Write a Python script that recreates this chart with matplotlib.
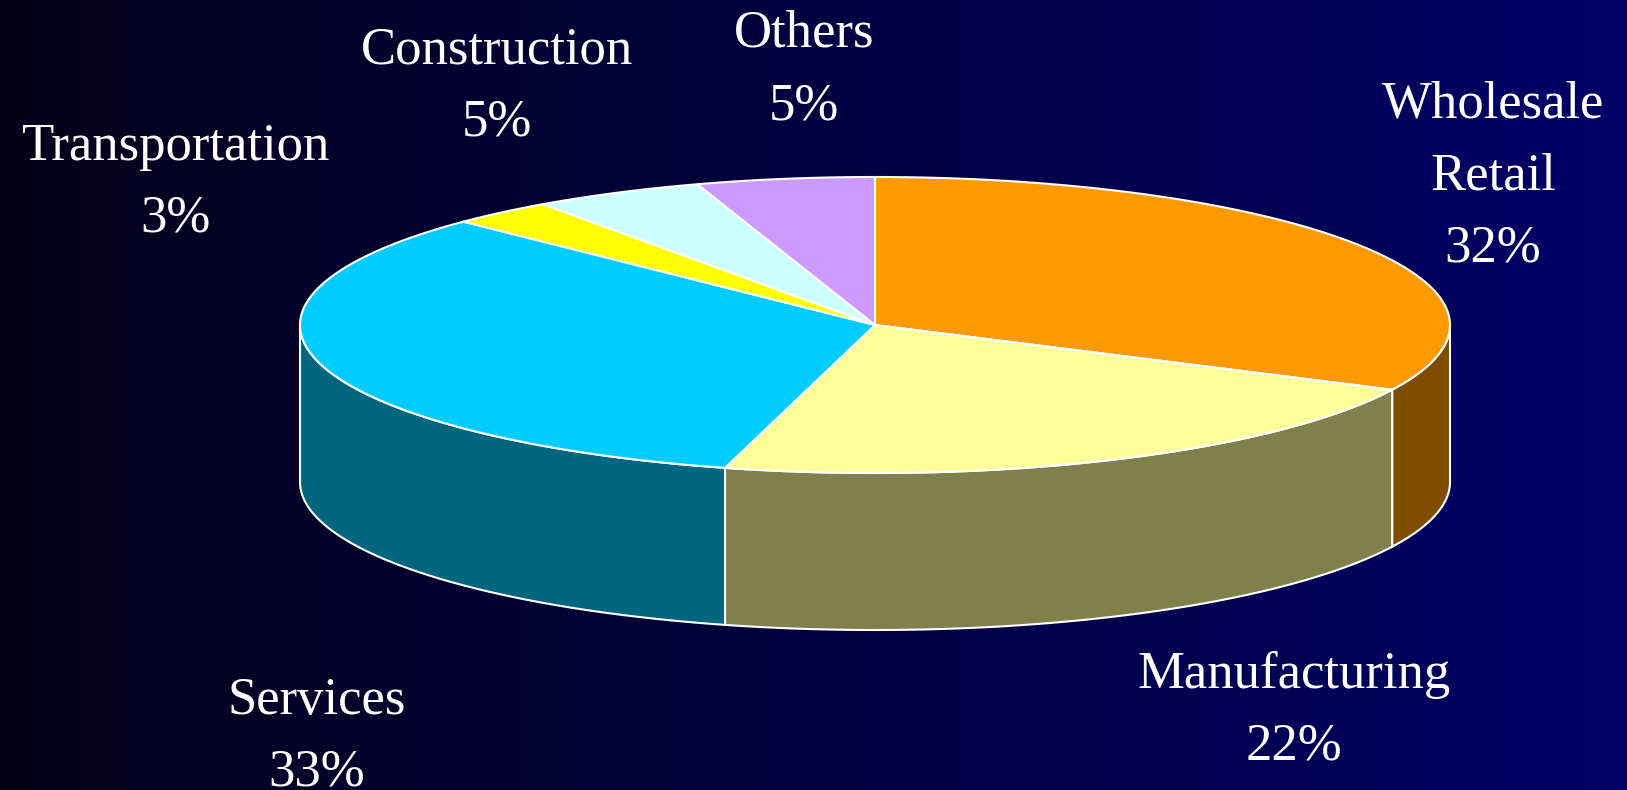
import numpy as np
import matplotlib.pyplot as plt
from matplotlib.patches import Polygon

# shares (labels show the rounded values)
labels = ["Wholesale\nRetail", "Manufacturing", "Services",
          "Transportation", "Construction", "Others"]
shares = [32.2, 22.0, 33.1, 2.9, 4.8, 5.0]
top_colors = ["#FF9900", "#FFFF99", "#00CCFF", "#FFFF00", "#CCFFFF", "#CC99FF"]
side_colors = ["#7F4C00", "#80804C", "#006680", "#808000", "#668080", "#664C80"]

# label anchor (x centre, baseline of the last line) in pixels
label_pos = [(1493, 262), (1294, 760), (317, 786),
             (175, 232), (497, 136), (804, 119)]

W, H = 1627, 790
cx, cy = 875, 325
rx, ry = 575, 148
depth = 157

fig = plt.figure(figsize=(W / 100, H / 100), dpi=100)
ax = fig.add_axes([0, 0, 1, 1])
ax.set_xlim(0, W)
ax.set_ylim(H, 0)
ax.axis("off")

# dark left-to-right gradient background
t = np.linspace(0, 1, 256)
grad = np.zeros((2, 256, 3))
grad[:, :, 0] = 0.02 * (1 - t)
grad[:, :, 2] = 0.10 + 0.30 * t
ax.imshow(grad, extent=[0, W, H, 0], aspect="auto", zorder=0)


def rim(a0, a1, n=200):
    th = np.radians(np.linspace(a0, a1, n))
    return cx + rx * np.cos(th), cy - ry * np.sin(th)


# slice angles, clockwise from 12 o'clock
ends = 90 - np.cumsum(shares) * 3.6
starts = np.concatenate([[90], ends[:-1]])

# front walls
for s, e, c in zip(starts, ends, side_colors):
    lo, hi = max(e, -180), min(s, 0)
    if lo >= hi:
        continue
    x, y = rim(lo, hi)
    pts = np.vstack([np.column_stack([x, y]),
                     np.column_stack([x[::-1], y[::-1] + depth])])
    ax.add_patch(Polygon(pts, closed=True, fc=c, ec="white", lw=1.5, zorder=2))

# top face
for s, e, c in zip(starts, ends, top_colors):
    x, y = rim(s, e)
    pts = np.vstack([[cx, cy], np.column_stack([x, y])])
    ax.add_patch(Polygon(pts, closed=True, fc=c, ec="white", lw=1.5, zorder=3))

for lab, v, (lx, ly) in zip(labels, shares, label_pos):
    ax.text(lx, ly, f"{lab}\n{round(v)}%", ha="center", va="baseline",
            multialignment="center", linespacing=1.66, color="white",
            fontsize=38, family="Liberation Serif", zorder=4)

fig.savefig("out.png", dpi=100)
